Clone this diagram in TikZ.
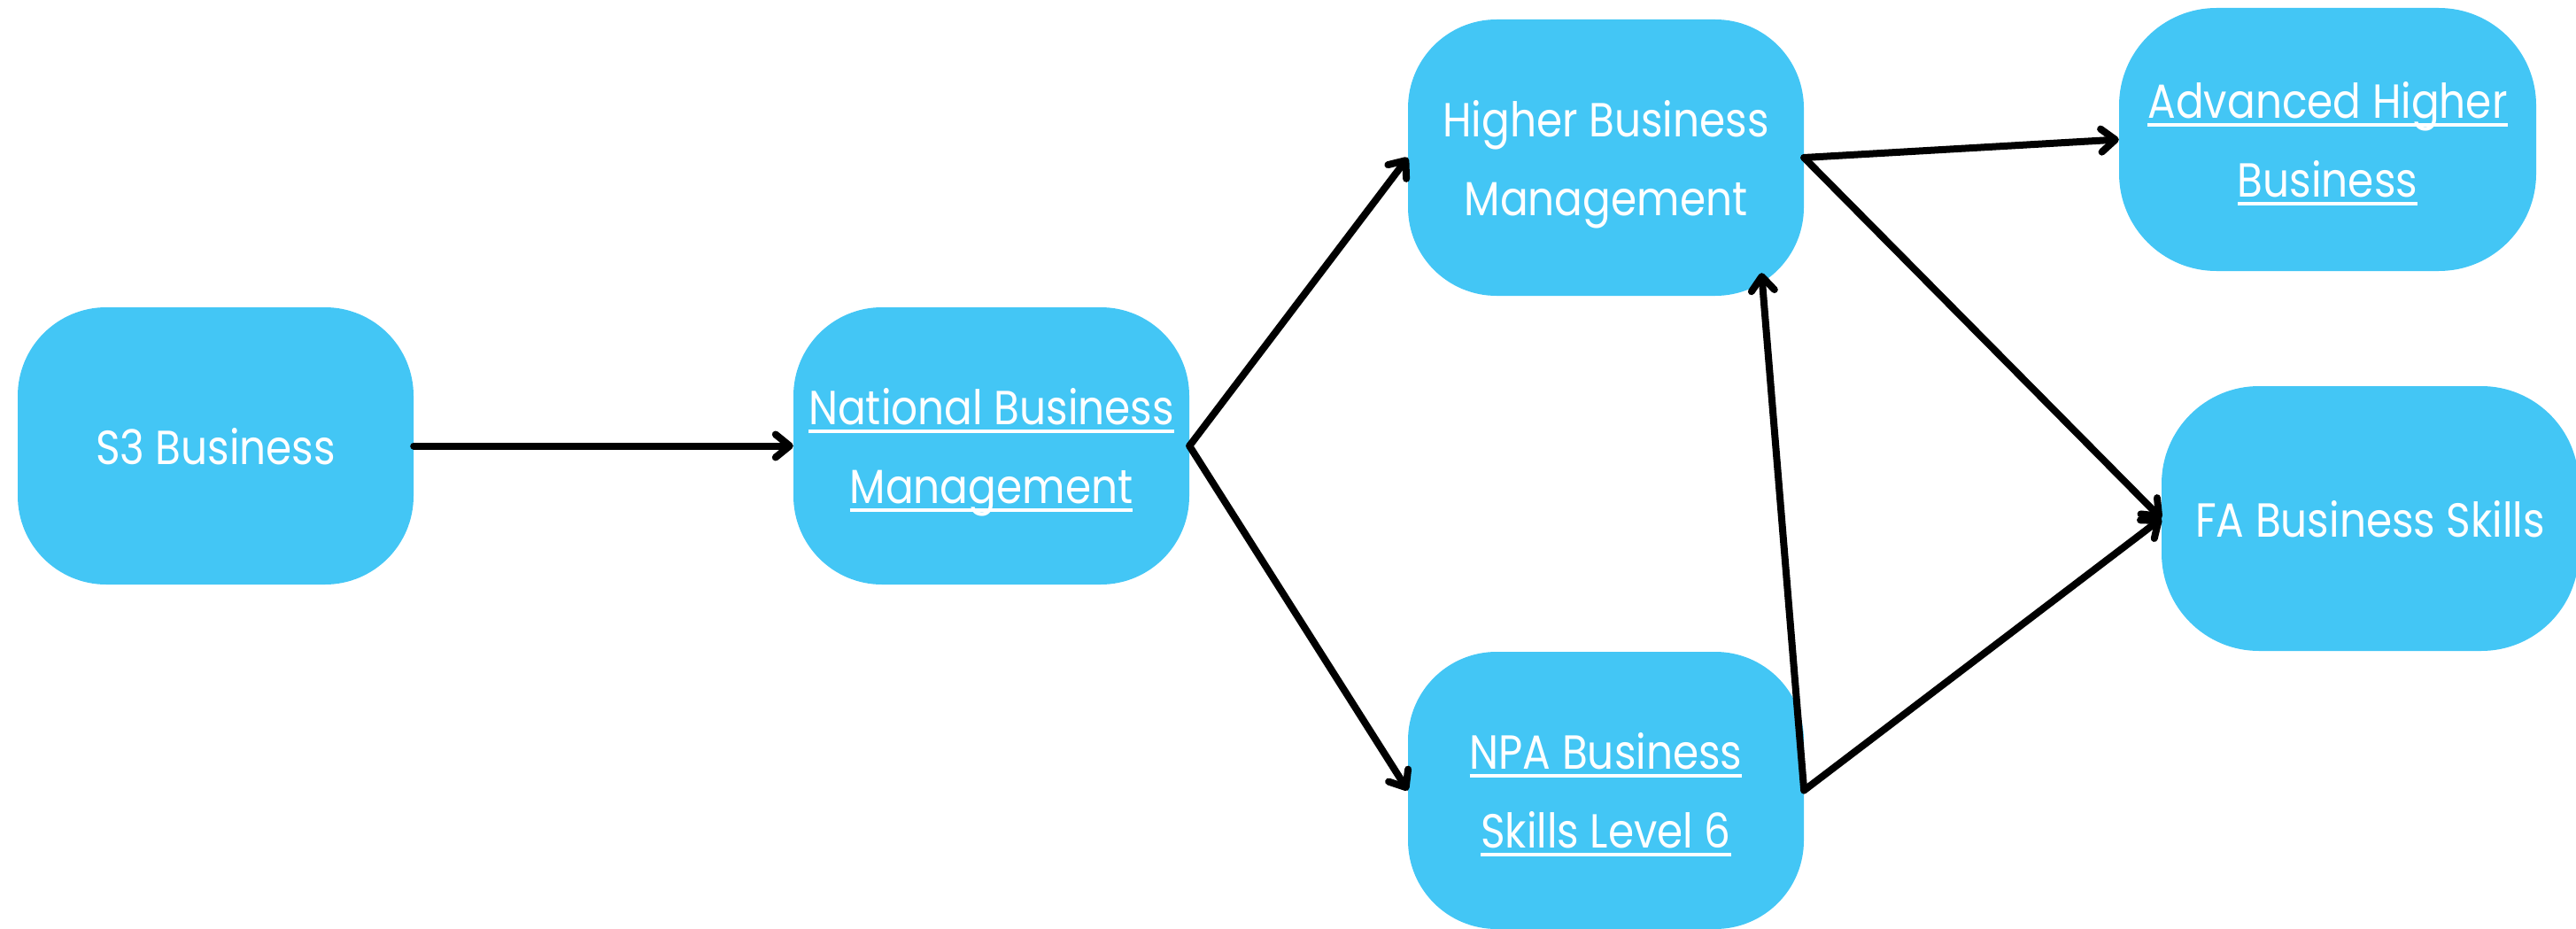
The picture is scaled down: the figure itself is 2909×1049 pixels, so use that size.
\documentclass[tikz,border=0pt]{standalone}
\usepackage{fontspec}
\setmainfont{Poppins}[FakeStretch=0.87]
\usetikzlibrary{arrows.meta}
\definecolor{boxblue}{RGB}{67,198,245}
\newcommand\myul[1]{\setbox0\hbox{#1}\rlap{\rule[-9pt]{\wd0}{4pt}}\box0}
\tikzset{
  box/.style={rectangle, rounded corners=100pt, fill=boxblue, text=white,
    align=center, inner sep=0pt, minimum width=447pt, minimum height=313pt,
    text depth=0pt, font=\fontsize{54}{89}\selectfont},
  widebox/.style={box, rounded corners=110pt, minimum width=471pt, minimum height=298pt},
  conn/.style={line width=8pt, line cap=round, line join=round,
    -{Straight Barb[length=16pt,width=26pt,line cap=round,line join=round]}}
}
\begin{document}
\begin{tikzpicture}[x=1pt,y=-1pt]
\useasboundingbox (0,0) rectangle (2909,1049);
\node[box] (s3) at (243.5,503.5) {S3 Business};
\node[box] (nat) at (1119.5,503.5) {\myul{National Business}\\\myul{Management}};
\node[box, minimum height=312pt] (hi) at (1813.5,178) {Higher Business\\Management};
\node[box] (npa) at (1813.5,892.5) {\myul{NPA Business}\\\myul{Skills Level 6}};
\node[widebox, minimum height=297pt] (adv) at (2628.5,157.5) {\myul{Advanced Higher}\\\myul{Business}};
\node[widebox, minimum height=299pt] (fa) at (2676.5,585.5) {FA Business Skills};
\coordinate (hicorner) at ([shift={(-48pt,26pt)}]hi.south east);
\draw[conn] (s3.east) -- (nat.west);
\draw[conn] (nat.east) -- (hi.west);
\draw[conn] (nat.east) -- (npa.west);
\draw[conn] (hi.east) -- (adv.west);
\draw[conn] (hi.east) -- (fa.west);
\draw[conn] (npa.east) -- (hicorner);
\draw[conn] (npa.east) -- (fa.west);
\end{tikzpicture}
\end{document}
